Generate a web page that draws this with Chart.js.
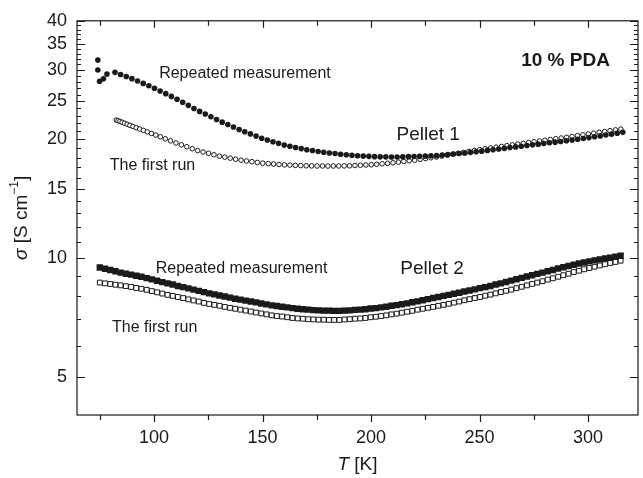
<!DOCTYPE html>
<html>
<head>
<meta charset="utf-8">
<script src="https://cdn.jsdelivr.net/npm/chart.js@4.4.0/dist/chart.umd.min.js"></script>
<style>
  html, body { margin: 0; padding: 0; background: #fff; }
  canvas { display: block; }
</style>
</head>
<body>
<canvas id="chart" width="643" height="478"></canvas>
<script>
// Pellet 1, repeated measurement (filled circles)
var tP1Repeat = [74.1, 74.1, 74.9, 76.7, 78.3,
  82, 84.6, 87.2, 89.8, 92.4, 95, 97.6, 100.2, 102.8, 105.4,
  108, 110.6, 113.2, 115.8, 118.4, 121, 123.6, 126.2, 128.8, 131.4,
  134, 136.6, 139.2, 141.8, 144.4, 147, 149.6, 152.2, 154.8, 157.4,
  160, 162.6, 165.2, 167.8, 170.4, 173, 175.6, 178.2, 180.8, 183.4,
  186, 188.6, 191.2, 193.8, 196.4, 199, 201.6, 204.2, 206.8, 209.4,
  212, 214.6, 217.2, 219.8, 222.4, 225, 227.6, 230.2, 232.8, 235.4,
  238, 240.6, 243.2, 245.8, 248.4, 251, 253.6, 256.2, 258.8, 261.4,
  264, 266.6, 269.2, 271.8, 274.4, 277, 279.6, 282.2, 284.8, 287.4,
  290, 292.6, 295.2, 297.8, 300.4, 303, 305.6, 308.2, 310.8, 313.4,
  316];
var sP1Repeat = [31.8, 30.0, 28.1, 28.5, 29.3,
  29.6, 29.24, 28.89, 28.53, 28.14, 27.75, 27.36, 26.97, 26.55, 26.14,
  25.72, 25.30, 24.86, 24.41, 23.97, 23.56, 23.20, 22.83, 22.47, 22.13,
  21.82, 21.51, 21.20, 20.92, 20.66, 20.40, 20.14, 19.94, 19.74, 19.55,
  19.35, 19.22, 19.09, 18.96, 18.84, 18.75, 18.65, 18.56, 18.48, 18.42,
  18.35, 18.29, 18.23, 18.19, 18.15, 18.12, 18.09, 18.07, 18.07, 18.05,
  18.06, 18.07, 18.09, 18.10, 18.12, 18.15, 18.18, 18.20, 18.26, 18.31,
  18.36, 18.42, 18.48, 18.55, 18.61, 18.68, 18.76, 18.84, 18.91, 18.99,
  19.07, 19.15, 19.23, 19.30, 19.38, 19.46, 19.54, 19.62, 19.69, 19.77,
  19.85, 19.94, 20.03, 20.12, 20.22, 20.32, 20.42, 20.53, 20.63, 20.74,
  20.85];

// Pellet 1, first run (open circles)
var tP1First = [82.6, 83.4, 84.3, 85.3, 86.4, 87.6, 88.9, 90.3, 91.8, 93.4,
  95.1, 96.9, 98.8, 100.8, 102.9, 105.2, 107.6, 110.1, 112.6, 115.1,
  117.6, 120.1, 122.6, 125.1, 127.6, 130.1, 132.6, 135.1, 137.6, 140.1,
  142.6, 145.1, 147.6, 150.1, 152.6, 155.1, 157.6, 160.1, 162.6, 165.1,
  167.6, 170.1, 172.6, 175.1, 177.6, 180.1, 182.6, 185.1, 187.6, 190.1,
  192.6, 195.1, 197.6, 200.1, 202.6, 205.1, 207.6, 210.1, 212.6, 215.1,
  217.6, 220.1, 222.6, 225.1, 227.6, 230.1, 232.6, 235.1, 237.6, 240.1,
  242.6, 245.1, 247.6, 250.1, 252.6, 255.1, 257.6, 260.1, 262.6, 265.1,
  267.6, 270.1, 272.6, 275.1, 277.6, 280.1, 282.6, 285.1, 287.6, 290.1,
  292.6, 295.1, 297.6, 300.1, 302.6, 305.1, 307.6, 310.1, 312.6, 315.1];
var sP1First = [22.40, 22.31, 22.22, 22.11, 21.99, 21.86, 21.72, 21.57, 21.42, 21.26,
  21.09, 20.91, 20.72, 20.52, 20.31, 20.08, 19.84, 19.59, 19.38, 19.17,
  18.95, 18.74, 18.59, 18.45, 18.29, 18.14, 18.04, 17.93, 17.82, 17.72,
  17.64, 17.57, 17.49, 17.42, 17.37, 17.33, 17.28, 17.24, 17.22, 17.19,
  17.17, 17.15, 17.14, 17.13, 17.13, 17.12, 17.13, 17.13, 17.14, 17.15,
  17.18, 17.20, 17.23, 17.25, 17.30, 17.35, 17.40, 17.45, 17.52, 17.59,
  17.66, 17.72, 17.81, 17.89, 17.97, 18.05, 18.15, 18.25, 18.35, 18.45,
  18.55, 18.65, 18.75, 18.85, 18.94, 19.03, 19.12, 19.20, 19.29, 19.38,
  19.47, 19.55, 19.64, 19.73, 19.82, 19.90, 19.99, 20.08, 20.17, 20.25,
  20.35, 20.45, 20.55, 20.65, 20.75, 20.85, 20.95, 21.05, 21.15, 21.25];

// Pellet 2, both runs share the temperature sweep
var tPellet2 = [75, 77.4, 79.8, 82.2, 84.6, 87, 89.4, 91.8, 94.2, 96.6,
  99, 101.4, 103.8, 106.2, 108.6, 111, 113.4, 115.8, 118.2, 120.6,
  123, 125.4, 127.8, 130.2, 132.6, 135, 137.4, 139.8, 142.2, 144.6,
  147, 149.4, 151.8, 154.2, 156.6, 159, 161.4, 163.8, 166.2, 168.6,
  171, 173.4, 175.8, 178.2, 180.6, 183, 185.4, 187.8, 190.2, 192.6,
  195, 197.4, 199.8, 202.2, 204.6, 207, 209.4, 211.8, 214.2, 216.6,
  219, 221.4, 223.8, 226.2, 228.6, 231, 233.4, 235.8, 238.2, 240.6,
  243, 245.4, 247.8, 250.2, 252.6, 255, 257.4, 259.8, 262.2, 264.6,
  267, 269.4, 271.8, 274.2, 276.6, 279, 281.4, 283.8, 286.2, 288.6,
  291, 293.4, 295.8, 298.2, 300.6, 303, 305.4, 307.8, 310.2, 312.6,
  315];
var sP2Repeat = [9.47, 9.40, 9.33, 9.26, 9.19, 9.13, 9.08, 9.02, 8.97, 8.90,
  8.83, 8.76, 8.69, 8.63, 8.57, 8.50, 8.44, 8.38, 8.32, 8.26,
  8.20, 8.14, 8.09, 8.04, 7.99, 7.94, 7.89, 7.85, 7.80, 7.76,
  7.72, 7.67, 7.63, 7.59, 7.56, 7.53, 7.50, 7.47, 7.44, 7.42,
  7.40, 7.38, 7.37, 7.36, 7.36, 7.35, 7.35, 7.36, 7.37, 7.39,
  7.40, 7.42, 7.45, 7.47, 7.50, 7.53, 7.57, 7.60, 7.64, 7.68,
  7.73, 7.77, 7.82, 7.87, 7.92, 7.97, 8.02, 8.07, 8.12, 8.17,
  8.23, 8.28, 8.33, 8.39, 8.44, 8.50, 8.57, 8.63, 8.70, 8.77,
  8.84, 8.91, 8.98, 9.05, 9.12, 9.19, 9.26, 9.33, 9.41, 9.48,
  9.55, 9.62, 9.69, 9.75, 9.81, 9.87, 9.93, 9.98, 10.03, 10.09,
  10.14];
var sP2First = [8.67, 8.63, 8.60, 8.56, 8.53, 8.49, 8.45, 8.40, 8.36, 8.31,
  8.25, 8.19, 8.13, 8.07, 8.02, 7.97, 7.92, 7.86, 7.81, 7.76,
  7.70, 7.65, 7.61, 7.57, 7.52, 7.48, 7.44, 7.40, 7.36, 7.32,
  7.28, 7.24, 7.20, 7.16, 7.13, 7.11, 7.08, 7.05, 7.03, 7.02,
  7.00, 6.99, 6.98, 6.98, 6.97, 6.97, 6.97, 6.99, 7.00, 7.02,
  7.03, 7.05, 7.08, 7.10, 7.13, 7.16, 7.20, 7.23, 7.27, 7.31,
  7.35, 7.40, 7.44, 7.48, 7.52, 7.57, 7.61, 7.66, 7.71, 7.76,
  7.82, 7.87, 7.92, 7.97, 8.03, 8.08, 8.14, 8.20, 8.26, 8.32,
  8.39, 8.46, 8.53, 8.60, 8.67, 8.74, 8.82, 8.89, 8.97, 9.05,
  9.13, 9.22, 9.29, 9.37, 9.44, 9.51, 9.58, 9.65, 9.72, 9.78,
  9.85];

var xTicks = [100, 150, 200, 250, 300];
var yTicks = [5, 10, 15, 20, 25, 30, 35, 40];

// text labels inside the plot, placed in data units [T, sigma]
var notes = [
  ['Repeated measurement', 141.9, 29.3, 16, ''],
  ['The first run', 99.3, 17.2, 16, ''],
  ['Pellet 1', 226.3, 20.6, 19, ''],
  ['Repeated measurement', 140.3, 9.41, 16, ''],
  ['The first run', 100.3, 6.65, 16, ''],
  ['Pellet 2', 228.1, 9.41, 19, ''],
  ['10 % PDA', 289.6, 31.7, 19, 'bold ']
];

var FONT = '"Liberation Sans", Arial, Helvetica, sans-serif';
var INK = '#1a1a1a';

function pts(ts, vs) {
  return ts.map(function(t, i) { return {x: t, y: vs[i]}; });
}

function drawParts(ctx, parts, cx, cy) {
  var total = 0;
  parts.forEach(function(p) { ctx.font = p.f; p.w = ctx.measureText(p.t).width; total += p.w; });
  var x = cx - total / 2;
  parts.forEach(function(p) {
    ctx.font = p.f;
    ctx.fillText(p.t, x, cy + p.dy);
    x += p.w;
  });
}

var decor = {
  id: 'decor',
  afterDraw: function(chart) {
    var ctx = chart.ctx, a = chart.chartArea;
    var xs = chart.scales.x, ys = chart.scales.y;
    ctx.save();
    ctx.strokeStyle = INK;
    ctx.lineWidth = 1.2;
    ctx.strokeRect(a.left, a.top, a.right - a.left, a.bottom - a.top);

    ctx.beginPath();
    // x ticks: outward at bottom, inward at top
    for (var t = 75; t <= 320; t += 25) {
      var px = Math.round(xs.getPixelForValue(t)) + 0.5;
      var len = (t % 50 === 0) ? 7 : 5;
      ctx.moveTo(px, a.bottom); ctx.lineTo(px, a.bottom + len);
      ctx.moveTo(px, a.top); ctx.lineTo(px, a.top + len);
    }
    // y ticks: inward on both sides, one per unit
    for (var v = 5; v <= 40; v++) {
      var py = Math.round(ys.getPixelForValue(v)) + 0.5;
      var l = (v % 5 === 0) ? 8 : 4;
      ctx.moveTo(a.left, py); ctx.lineTo(a.left + l, py);
      ctx.moveTo(a.right, py); ctx.lineTo(a.right - l, py);
    }
    ctx.stroke();

    ctx.fillStyle = INK;
    ctx.textAlign = 'center';
    ctx.textBaseline = 'middle';
    notes.forEach(function(n) {
      ctx.font = n[4] + n[3] + 'px ' + FONT;
      ctx.fillText(n[0], xs.getPixelForValue(n[1]), ys.getPixelForValue(n[2]));
    });

    // axis titles
    ctx.textAlign = 'left';
    drawParts(ctx, [
      {t: 'T', f: 'italic 19px ' + FONT, dy: 0},
      {t: ' [K]', f: '19px ' + FONT, dy: 0}
    ], (a.left + a.right) / 2, 465);

    ctx.translate(22, (a.top + a.bottom) / 2);
    ctx.rotate(-Math.PI / 2);
    drawParts(ctx, [
      {t: '\u03C3', f: 'italic 19px ' + FONT, dy: 0},
      {t: ' [S cm', f: '19px ' + FONT, dy: 0},
      {t: '\u22121', f: '12px ' + FONT, dy: -7},
      {t: ']', f: '19px ' + FONT, dy: 0}
    ], 0, 0);
    ctx.restore();
  }
};

new Chart('chart', {
  type: 'scatter',
  data: {
    datasets: [
      {data: pts(tP1Repeat, sP1Repeat), pointStyle: 'circle', pointRadius: 2.8,
       backgroundColor: INK, borderColor: INK, borderWidth: 0},
      {data: pts(tPellet2, sP2Repeat), pointStyle: 'rect', pointRadius: 4.5,
       backgroundColor: INK, borderColor: INK, borderWidth: 0},
      {data: pts(tP1First, sP1First), pointStyle: 'circle', pointRadius: 2.3,
       backgroundColor: '#fff', borderColor: INK, borderWidth: 1},
      {data: pts(tPellet2, sP2First), pointStyle: 'rect', pointRadius: 3.4,
       backgroundColor: '#fff', borderColor: INK, borderWidth: 1}
    ]
  },
  options: {
    responsive: false,
    animation: false,
    devicePixelRatio: 1,
    layout: { padding: { top: 17, right: 2, left: 0, bottom: 0 } },
    plugins: {
      legend: { display: false },
      tooltip: { enabled: false }
    },
    scales: {
      x: {
        type: 'linear',
        min: 64.5,
        max: 323,
        afterBuildTicks: function(s) { s.ticks = xTicks.map(function(v) { return {value: v}; }); },
        afterFit: function(s) { s.height = 63; },
        grid: { display: false, drawTicks: false },
        border: { display: false },
        ticks: { color: INK, padding: 12, maxRotation: 0, autoSkip: false,
                 font: { family: FONT, size: 18 } }
      },
      y: {
        type: 'logarithmic',
        min: 4,
        max: 40,
        afterBuildTicks: function(s) { s.ticks = yTicks.map(function(v) { return {value: v}; }); },
        afterFit: function(s) { s.width = 77; },
        grid: { display: false, drawTicks: false },
        border: { display: false },
        ticks: { color: INK, padding: 10, autoSkip: false,
                 callback: function(v) { return String(v); },
                 font: { family: FONT, size: 18 } }
      }
    }
  },
  plugins: [decor]
});
</script>
</body>
</html>
